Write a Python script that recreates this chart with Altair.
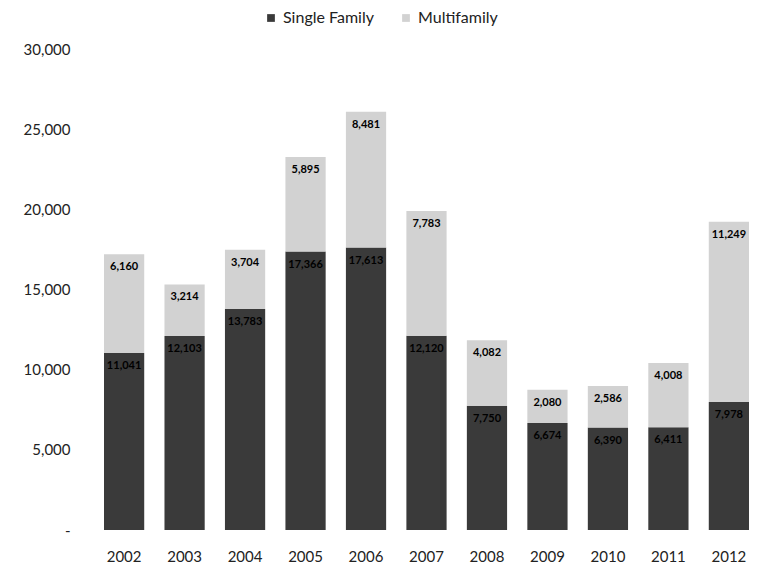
import altair as alt
import pandas as pd

years = ["2002", "2003", "2004", "2005", "2006", "2007", "2008", "2009", "2010", "2011", "2012"]
single_family = [11041, 12103, 13783, 17366, 17613, 12120, 7750, 6674, 6390, 6411, 7978]
multifamily = [6160, 3214, 3704, 5895, 8481, 7783, 4082, 2080, 2586, 4008, 11249]
series = ["Single Family", "Multifamily"]

rows = []
for i, y in enumerate(years):
    rows.append({"year": y, "series": series[0], "value": single_family[i], "ord": 0})
    rows.append({"year": y, "series": series[1], "value": multifamily[i], "ord": 1})
df = pd.DataFrame(rows)

FONT = "Lato"

x = alt.X("year:N", sort=years, title=None,
          scale=alt.Scale(paddingInner=0.335, paddingOuter=0),
          axis=alt.Axis(labelAngle=0, domain=False, ticks=False, labelPadding=19,
                        labelFontSize=15, labelColor="#222", labelFont=FONT))

yscale = alt.Scale(domain=[0, 30000], nice=False)

bars = alt.Chart(df).mark_bar().encode(
    x=x,
    y=alt.Y("value:Q", stack="zero", scale=yscale, title=None,
            axis=alt.Axis(values=[0, 5000, 10000, 15000, 20000, 25000, 30000],
                          labelExpr="datum.value == 0 ? '-' : format(datum.value, ',')",
                          grid=False, domain=False, ticks=False, labelPadding=34,
                          labelFontSize=15, labelColor="#222", labelFont=FONT)),
    color=alt.Color("series:N", scale=alt.Scale(domain=series, range=["#3a3a3a", "#d2d2d2"]),
                    legend=alt.Legend(title=None, orient="none", direction="horizontal",
                                      legendX=159, legendY=-39, symbolType="square",
                                      symbolSize=60, labelFontSize=16, labelFont=FONT,
                                      labelColor="#222", columnPadding=24)),
    order=alt.Order("ord:Q", sort="ascending"),
)

labels = alt.Chart(df).transform_window(
    top="sum(value)", sort=[alt.SortField("ord")], groupby=["year"], frame=[None, 0]
).mark_text(fontWeight="bold", fontSize=11, font=FONT, color="#000", baseline="middle", dy=13).encode(
    x=alt.X("year:N", sort=years),
    y=alt.Y("top:Q", scale=yscale),
    text=alt.Text("value:Q", format=","),
)

chart = alt.layer(bars, labels).properties(
    width=645, height=481,
    padding={"left": 15, "top": 2, "right": 0, "bottom": 5},
).configure_view(stroke=None)

chart.save("out.html", embed_options={"renderer": "svg", "actions": False})
